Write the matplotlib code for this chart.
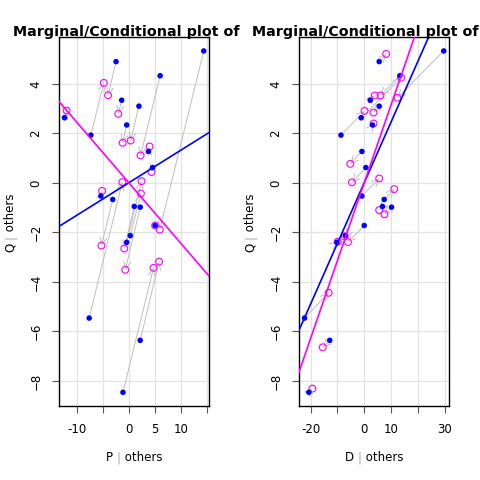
import numpy as np
import matplotlib
matplotlib.use("Agg")
import matplotlib.pyplot as plt

# --- marginal (centred) values, one entry per observation ---
p_marg = [-12.4, -7.34, -2.49, -1.40, -0.44, 1.92, 6.0, 14.4, 3.77, 4.54,
          -5.42, -3.12, 1.02, 2.17, 5.04, 0.25, -0.44, -7.66, 2.17, -1.15]
d_marg = [-1.13, -8.7, 5.58, 2.22, 3.09, 5.58, 13.3, 29.7, -0.88, 0.6,
          -0.88, 7.45, 6.82, 10.2, 0.0, -7.08, -10.2, -22.3, -12.9, -20.7]
q_marg = [2.63, 1.93, 4.90, 3.34, 2.34, 3.10, 4.33, 5.33, 1.27, 0.62,
          -0.53, -0.67, -0.95, -0.98, -1.72, -2.13, -2.40, -5.46, -6.36, -8.46]

# --- conditional (added-variable) values ---
p_cond_x = [-12.0, -4.85, -4.02, -2.05, -1.21, 0.33, 2.24, 5.94, 3.97, 4.35,
            -5.17, -5.3, -0.9, -0.71, 5.04, 2.30, 2.43, -1.28, 5.8, 4.73]
p_cond_y = [2.92, 4.04, 3.54, 2.79, 1.62, 1.71, 1.11, -1.89, 1.47, 0.44,
            -0.32, -2.53, -2.65, -3.51, -1.72, -0.43, 0.07, 0.03, -3.18, -3.43]
d_cond_x = [13.8, 0.11, 8.19, 3.96, 3.46, 3.46, 6.07, 12.4, -5.2, -4.6,
            5.58, 11.2, 5.58, 7.56, -6.1, -7.3, -9.94, -13.3, -15.5, -19.4]
d_cond_y = [4.25, 2.91, 5.21, 3.53, 2.40, 2.84, 3.53, 3.44, 0.77, 0.02,
            0.18, -0.25, -1.10, -1.27, -2.39, -2.16, -2.38, -4.44, -6.64, -8.31]

panels = [
    dict(var="P", xm=p_marg, xc=p_cond_x, yc=p_cond_y,
         ticks=[-10, -5, 0, 5, 10, 15], labels=["-10", "", "0", "5", "10", ""]),
    dict(var="D", xm=d_marg, xc=d_cond_x, yc=d_cond_y,
         ticks=[-20, -10, 0, 10, 20, 30], labels=["-20", "", "0", "10", "", "30"]),
]

BLUE = "#0000FF"
MAGENTA = "#FF00FF"
GRAY = "#BEBEBE"
W = H = 480.0
fs = 8.5

plt.rcParams["font.family"] = "DejaVu Sans"
fig = plt.figure(figsize=(4.8, 4.8), dpi=100)


def lim(*vals):
    v = np.concatenate([np.asarray(a, float) for a in vals])
    r = v.max() - v.min()
    return v.min() - 0.04 * r, v.max() + 0.04 * r


for i, pn in enumerate(panels):
    left_px = 59 if i == 0 else 299
    ax = fig.add_axes([left_px / W, 1 - 406 / H, 150.3 / W, 368.7 / H])
    xm = np.array(pn["xm"]); ym = np.array(q_marg)
    xc = np.array(pn["xc"]); yc = np.array(pn["yc"])

    ax.set_xlim(*lim(xm, xc))
    ax.set_ylim(*lim(ym, yc))

    # grid
    ax.set_xticks(pn["ticks"])
    ax.set_xticklabels(pn["labels"])
    ax.set_yticks([-8, -6, -4, -2, 0, 2, 4])
    ax.grid(True, color="#E3E3E3", linewidth=0.9)
    ax.set_axisbelow(True)

    # arrows marginal -> conditional
    for x0, y0, x1, y1 in zip(xm, ym, xc, yc):
        ax.annotate("", xy=(x1, y1), xytext=(x0, y0),
                    arrowprops=dict(arrowstyle="->,head_length=0.5,head_width=0.25",
                                    color=GRAY, lw=0.7, shrinkA=0, shrinkB=0),
                    zorder=2)

    ax.scatter(xc, yc, s=24, facecolors="none", edgecolors=MAGENTA,
               linewidths=0.8, zorder=3)
    ax.scatter(xm, ym, s=16, color=BLUE, edgecolors="none", zorder=4)

    # least-squares lines
    xs = np.array(ax.get_xlim())
    bm = np.polyfit(xm, ym, 1)
    bc = np.polyfit(xc, yc, 1)
    ax.plot(xs, np.polyval(bm, xs), color=BLUE, lw=1.2, zorder=5)
    ax.plot(xs, np.polyval(bc, xs), color=MAGENTA, lw=1.2, zorder=5)
    ax.set_xlim(xs)

    for s in ax.spines.values():
        s.set_linewidth(1.0)
    ax.tick_params(axis="both", direction="out", length=5, width=0.8,
                   color="#555555", labelsize=fs, pad=7)
    for t in ax.get_yticklabels():
        t.set_rotation(90)
        t.set_va("center")

    # title (clipped in the original)
    fig.text((13 if i == 0 else 252) / W, 1 - 36 / H,
             "Marginal/Conditional plot of", fontsize=10.3,
             fontweight="bold", va="baseline", ha="left")

    # x label with grey bar
    t1 = fig.text((106 if i == 0 else 345) / W, 1 - 461 / H, pn["var"] + " ",
                  fontsize=fs, va="baseline", ha="left")
    t2 = ax.annotate("|", xy=(1, 0), xycoords=t1, va="bottom", ha="left",
                     fontsize=fs, color="#AAAAAA", annotation_clip=False)
    ax.annotate(" others", xy=(1, 0), xycoords=t2, va="bottom", ha="left",
                fontsize=fs, annotation_clip=False)

    # y label with grey bar
    y1 = fig.text((4 if i == 0 else 244) / W, 1 - 252 / H, "Q ", fontsize=fs,
                  rotation=90, va="bottom", ha="left")
    y2 = ax.annotate("|", xy=(0, 1), xycoords=y1, va="bottom", ha="left",
                     rotation=90, fontsize=fs, color="#AAAAAA",
                     annotation_clip=False)
    ax.annotate(" others", xy=(0, 1), xycoords=y2, va="bottom", ha="left",
                rotation=90, fontsize=fs, annotation_clip=False)

fig.savefig("out.png", dpi=100)
